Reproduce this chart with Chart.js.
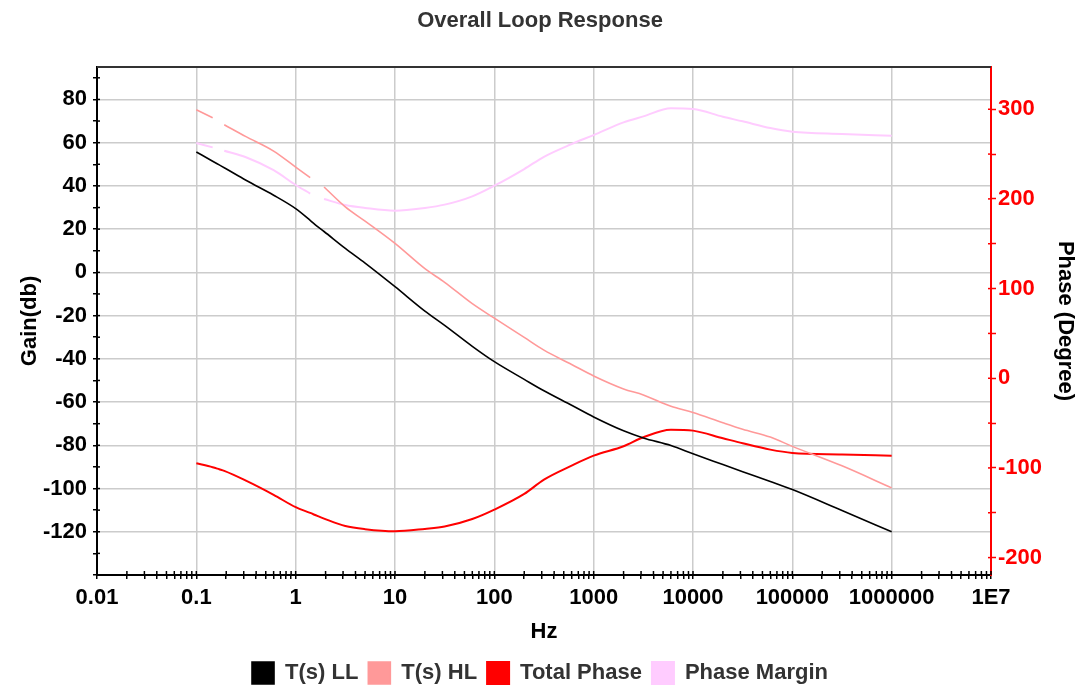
<!DOCTYPE html>
<html><head><meta charset="utf-8">
<script src="https://cdn.jsdelivr.net/npm/chart.js@4/dist/chart.umd.min.js"></script>
<style>html,body{margin:0;padding:0;background:#fff;}</style>
</head><body>
<canvas id="c" width="1080" height="694"></canvas>
<script>
// ---- data ----
const freqHz = [0.1, 0.146, 0.17, 0.191, 0.316, 0.6, 1, 1.4, 1.65, 1.93, 3.16, 5, 10, 20, 31.6, 60, 100, 200, 316, 600, 1000, 2000, 3162, 6000, 10000, 20000, 31623, 60000, 100000, 316228, 1000000];
const gainLL = [55.7, 51.4, 49.7, 48.4, 42.6, 35.7, 29.5, 24.1, 21.3, 18.9, 11.1, 4.3, -6.6, -17.9, -24.5, -34.2, -41.3, -49.5, -54.8, -61.5, -66.9, -73.3, -76.6, -80.1, -83.9, -88.9, -92.2, -96.8, -100.5, -110.2, -120];
const gainHL = [75.2, 71.5, null, 68.3, 62.8, 56.1, 48.7, 43.8, null, 39.5, 30.3, 23.7, 13.4, 1.7, -4.6, -14.5, -21.2, -30.1, -36, -42.6, -47.9, -53.9, -56.7, -61.9, -64.8, -69.6, -72.6, -76.2, -80.5, -89.5, -99.7];
const totalPhase = [-94.8, -99.2, -101.5, -103.3, -114.2, -130, -143.8, -150.2, -153.5, -156.5, -164.8, -168.3, -170.6, -168, -165.4, -157, -146.5, -129, -113, -97.4, -86.3, -75.8, -65.8, -57.3, -58.4, -66.9, -72.5, -79.6, -83.3, -85, -86.3];
const phaseMargin = [262.3, 257.5, null, 253.7, 246.4, 232, 215.5, 206, null, 199.9, 193.2, 189.9, 186.9, 189.9, 193.6, 202.9, 214.7, 233.3, 247, 261.2, 271.2, 285.4, 292, 301, 300.2, 291.6, 286.5, 279, 275, 272.4, 270.5];

const seriesNames = ['T(s) LL', 'T(s) HL', 'Total Phase', 'Phase Margin'];

const xDecadeValues = [0.01, 0.1, 1, 10, 100, 1000, 10000, 100000, 1000000, 10000000];
const xDecadeLabels = ['0.01', '0.1', '1', '10', '100', '1000', '10000', '100000', '1000000', '1E7'];
const gainMajorTicks = [-120, -100, -80, -60, -40, -20, 0, 20, 40, 60, 80];
const gainMinorTicks = [-130, -110, -90, -70, -50, -30, -10, 10, 30, 50, 70, 90];
const phaseMajorTicks = [-200, -100, 0, 100, 200, 300];
const phaseMinorTicks = [-150, -50, 50, 150, 250];

const FONT = '"Liberation Sans", Arial, Helvetica, sans-serif';
Chart.defaults.font.family = FONT;
Chart.defaults.font.weight = 'bold';
Chart.defaults.font.size = 22;

const pts = (vals) => freqHz.map((f, i) => ({x: f, y: vals[i]}));

const xTickValues = [];
xDecadeValues.forEach((d, i) => {
  if (i === xDecadeValues.length - 1) { xTickValues.push(d); return; }
  for (let k = 1; k <= 9; k++) xTickValues.push(+(k * d).toPrecision(6));
});
const isDecade = v => xDecadeValues.some(d => Math.abs(d - v) / d < 1e-6);

const axisDecor = {
  id: 'axisDecor',
  afterDraw(chart) {
    const {ctx, chartArea: a, scales} = chart;
    ctx.save();
    ctx.lineWidth = 1.5;
    ctx.strokeStyle = '#000';
    scales.x.ticks.forEach(t => {
      const px = scales.x.getPixelForValue(t.value);
      ctx.beginPath(); ctx.moveTo(px, a.bottom); ctx.lineTo(px, a.bottom - 4); ctx.stroke();
    });
    scales.yGain.ticks.forEach(t => {
      const py = scales.yGain.getPixelForValue(t.value);
      ctx.beginPath(); ctx.moveTo(a.left, py); ctx.lineTo(a.left + 3, py); ctx.stroke();
    });
    ctx.strokeStyle = '#ff0000';
    scales.yPhase.ticks.forEach(t => {
      const py = scales.yPhase.getPixelForValue(t.value);
      ctx.beginPath(); ctx.moveTo(a.right, py); ctx.lineTo(a.right - 3, py); ctx.stroke();
    });
    ctx.strokeStyle = '#333';
    ctx.lineWidth = 2;
    ctx.beginPath(); ctx.moveTo(a.left, a.top); ctx.lineTo(a.right, a.top); ctx.stroke();
    ctx.restore();
  }
};

new Chart(document.getElementById('c'), {
  type: 'line',
  data: {
    datasets: [
      {label: seriesNames[0], data: pts(gainLL), yAxisID: 'yGain', borderColor: '#000000', backgroundColor: '#000000', borderWidth: 1.6},
      {label: seriesNames[1], data: pts(gainHL), yAxisID: 'yGain', borderColor: '#ff9999', backgroundColor: '#ff9999', borderWidth: 1.6},
      {label: seriesNames[2], data: pts(totalPhase), yAxisID: 'yPhase', borderColor: '#ff0000', backgroundColor: '#ff0000', borderWidth: 2},
      {label: seriesNames[3], data: pts(phaseMargin), yAxisID: 'yPhase', borderColor: '#ffccff', backgroundColor: '#ffccff', borderWidth: 2}
    ]
  },
  options: {
    responsive: false,
    animation: false,
    devicePixelRatio: 1,
    spanGaps: false,
    layout: {padding: 0, autoPadding: false},
    elements: {point: {radius: 0, hoverRadius: 0}, line: {cubicInterpolationMode: 'monotone'}},
    plugins: {
      title: {display: true, text: 'Overall Loop Response', color: '#333333', font: {size: 22, weight: 'bold'}, padding: {top: 8, bottom: 32.6}},
      legend: {position: 'bottom', labels: {color: '#333333', boxWidth: 22, boxHeight: 22, padding: 10, font: {size: 22, weight: 'bold'}}},
      tooltip: {enabled: false}
    },
    scales: {
      x: {
        type: 'logarithmic', position: 'bottom', min: 0.01, max: 10000000,
        afterBuildTicks: s => { s.ticks = xTickValues.map(v => ({value: v, major: isDecade(v)})); },
        afterFit: s => { s.height = 77; },
        ticks: {
          autoSkip: false, maxRotation: 0, minRotation: 0, color: '#000', padding: 6,
          callback: (v) => { const i = xDecadeValues.findIndex(d => Math.abs(d - v) / d < 1e-6); return i >= 0 ? xDecadeLabels[i] : ''; }
        },
        grid: {
          color: c => (c.tick && isDecade(c.tick.value)) ? '#cccccc' : 'rgba(0,0,0,0)',
          lineWidth: 1.5, tickColor: '#000', tickLength: 4, tickWidth: 1.5
        },
        border: {display: true, color: '#000', width: 2},
        title: {display: true, text: 'Hz', color: '#000', font: {size: 22, weight: 'bold'}, padding: {top: 0, bottom: 7}}
      },
      yGain: {
        type: 'linear', position: 'left', min: -140, max: 95,
        afterBuildTicks: s => { s.ticks = gainMajorTicks.concat(gainMinorTicks).concat([-140]).sort((a, b) => a - b).map(v => ({value: v})); },
        afterFit: s => { s.width = 97; },
        ticks: {
          color: '#000', padding: 6, autoSkip: false,
          callback: v => gainMajorTicks.includes(v) ? String(v) : ''
        },
        grid: {
          color: c => (c.tick && gainMajorTicks.includes(c.tick.value)) ? '#cccccc' : 'rgba(0,0,0,0)',
          lineWidth: 1.5, tickColor: '#000', tickLength: 4, tickWidth: 1.5
        },
        border: {display: true, color: '#000', width: 2},
        title: {display: true, text: 'Gain(db)', color: '#000', font: {size: 22, weight: 'bold'}, padding: {top: 17, bottom: 0}}
      },
      yPhase: {
        type: 'linear', position: 'right', min: -219.4, max: 347.1,
        afterBuildTicks: s => { s.ticks = phaseMajorTicks.concat(phaseMinorTicks).sort((a, b) => a - b).map(v => ({value: v})); },
        afterFit: s => { s.width = 89; },
        ticks: {
          color: '#ff0000', padding: 2, autoSkip: false,
          callback: v => phaseMajorTicks.includes(v) ? String(v) : ''
        },
        grid: {drawOnChartArea: false, tickColor: '#ff0000', tickLength: 5, tickWidth: 1.5},
        border: {display: true, color: '#ff0000', width: 2},
        title: {display: true, text: 'Phase (Degree)', color: '#000', font: {size: 22, weight: 'bold'}, padding: {top: 2, bottom: 0}}
      }
    }
  },
  plugins: [axisDecor]
});
</script>
</body></html>
